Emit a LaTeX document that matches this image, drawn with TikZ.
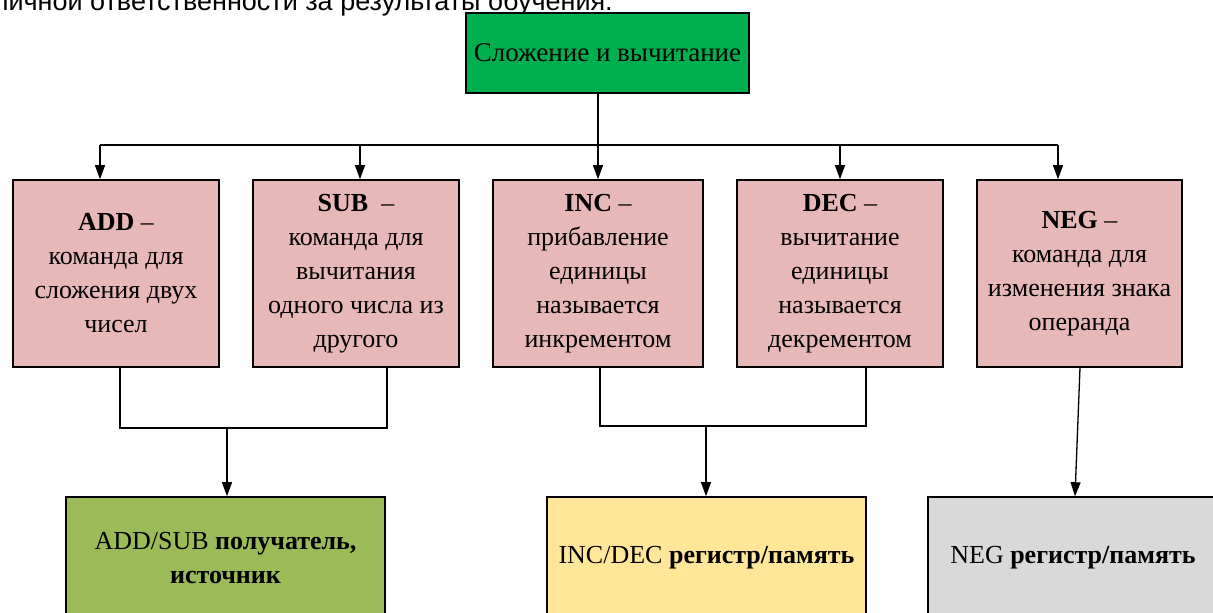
\documentclass[tikz,border=0pt]{standalone}
\usepackage{fontspec}
\setmainfont{Liberation Serif}
\newfontfamily\arialfont{Liberation Sans}
\usetikzlibrary{arrows.meta}
\definecolor{pinkc}{HTML}{E6B8B7}
\definecolor{topgreen}{HTML}{00B050}
\definecolor{olivec}{HTML}{9BBB59}
\definecolor{yellowc}{HTML}{FFE699}
\definecolor{grayc}{HTML}{D9D9D9}
\begin{document}
\begin{tikzpicture}[x=1pt,y=-1pt,
  box/.style={draw=black, line width=1.6pt, inner sep=0pt, align=center,
    font=\fontsize{26}{34}\selectfont},
  midbox/.style={box, fill=pinkc, minimum width=206pt, minimum height=187pt},
  lowbox/.style={box, minimum width=319pt, minimum height=122pt},
  conn/.style={line width=1.3pt},
  arr/.style={conn, -{Triangle[length=14pt,width=10pt]}}]
\useasboundingbox (0,0) rectangle (1213,613);
\clip (0,0) rectangle (1213,613);

% header fragment (cut at the top edge as in the reference)
\node[anchor=base east, inner sep=0pt, font=\arialfont\fontsize{27}{28}\selectfont] (hdr) at (613,10)
  {личной ответственности за результаты обучения.};

% top box
\node[box, fill=topgreen, minimum width=283pt, minimum height=80pt, font=\fontsize{27}{34}\selectfont] (top) at (607.5,53)
  {Сложение и вычитание};

% middle boxes
\node[midbox] (b1) at (116,273.5) {\textbf{ADD} –\\команда для\\сложения двух\\чисел};
\node[midbox] (b2) at (356,273.5) {\textbf{SUB}\ \ –\\команда для\\вычитания\\одного числа из\\другого};
\node[midbox, minimum width=210pt] (b3) at (598,273.5) {\textbf{INC} –\\прибавление\\единицы\\называется\\инкрементом};
\node[midbox] (b4) at (840,273.5) {\textbf{DEC} –\\вычитание\\единицы\\называется\\декрементом};
\node[midbox, minimum width=205pt] (b5) at (1079.5,273.5) {\textbf{NEG} –\\команда для\\изменения знака\\операнда};

% bottom boxes
\node[lowbox, fill=olivec] (g1) at (225.5,558) {ADD/SUB \textbf{получатель,}\\\textbf{источник}};
\node[lowbox, fill=yellowc] (y1) at (706.5,558) {INC/DEC \textbf{регистр/память}};
\node[lowbox, fill=grayc, minimum width=290pt] (gr) at (1073,558) {NEG \textbf{регистр/память}};

% bus
\coordinate (busL) at (100,145);
\coordinate (busR) at (1058,145);
\coordinate (d2) at (360,145);
\coordinate (d4) at (840,145);
\draw[arr] (top.south -| b3.north) -- (b3.north);
\draw[conn] (busL) -- (busR);
\draw[arr] (busL) -- (busL |- b1.north);
\draw[arr] (d2) -- (d2 |- b2.north);
\draw[arr] (d4) -- (d4 |- b4.north);
\draw[arr] (busR) -- (busR |- b5.north);

% ADD/SUB merge
\coordinate (j1) at (120,428);
\coordinate (j2) at (387,428);
\coordinate (j3) at (227,428);
\draw[conn] (j1 |- b1.south) -- (j1) -- (j2) -- (j2 |- b2.south);
\draw[arr] (j3) -- (j3 |- g1.north);

% INC/DEC merge
\coordinate (k1) at (600,426);
\coordinate (k2) at (866,426);
\coordinate (k3) at (706,426);
\draw[conn] (k1 |- b3.south) -- (k1) -- (k2) -- (k2 |- b4.south);
\draw[arr] (k3) -- (k3 |- y1.north);

% NEG
\draw[arr] ([xshift=0.5pt]b5.south) -- ([xshift=2pt]gr.north);
\end{tikzpicture}
\end{document}
